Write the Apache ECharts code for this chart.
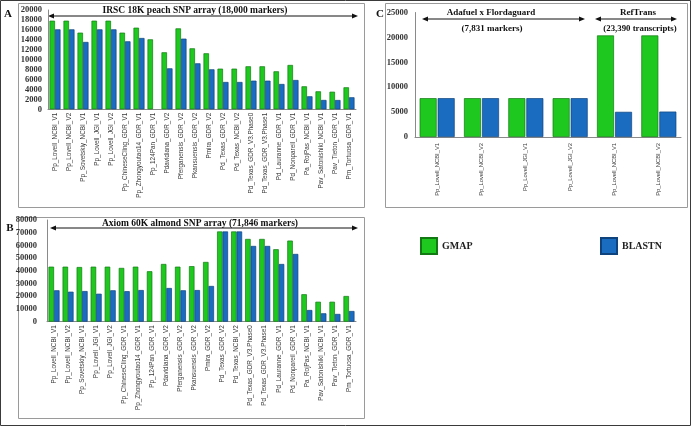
<!DOCTYPE html>
<html>
<head>
<meta charset="utf-8">
<script src="https://cdn.jsdelivr.net/npm/echarts@6/dist/echarts.min.js"></script>
<style>
  html, body { margin: 0; padding: 0; background: #fff; }
  #main { width: 691px; height: 426px; }
</style>
</head>
<body>
<div id="main"></div>
<script>
// genomes used in panels A and B
var genomesAB = ['Pp_Lovell_NCBI_V1', 'Pp_Lovell_NCBI_V2', 'Pp_Sovetskiy_NCBI_V1', 'Pp_Lovell_JGI_V1',
  'Pp_Lovell_JGI_V2', 'Pp_ChineseCling_GDR_V1', 'Pp_Zhongyoutao14_GDR_V1', 'Pp_124Pan_GDR_V1',
  'Pdavidiana_GDR_V2', 'Pferganensis_GDR_V2', 'Pkansuensis_GDR_V2', 'Pmira_GDR_V2',
  'Pd_Texas_GDR_V2', 'Pd_Texas_NCBI_V2', 'Pd_Texas_GDR_V3.Phase0', 'Pd_Texas_GDR_V3.Phase1',
  'Pd_Lauranne_GDR_V1', 'Pd_Nonpareil_GDR_V1', 'Pa_RojPas_NCBI_V1', 'Pav_Satonishiki_NCBI_V1',
  'Pav_Tieton_GDR_V1', 'Pm_Tortuosa_GDR_V1'];

// A: IRSC 18K peach SNP array
var gmapA = [17850, 17850, 15440, 17850, 17850, 15440, 16440, 14090, 11480, 16300, 12280, 11280,
  8190, 8190, 8660, 8660, 7650, 8930, 4630, 3620, 3540, 4430];
var blastA = [16100, 16100, 13560, 16100, 16100, 13690, 14360, null, 8250, 14230, 9260, 8050,
  5500, 5500, 5770, 5770, 5100, 5900, 2620, 1880, 1870, 2420];

// B: Axiom 60K almond SNP array
var gmapB = [43300, 43300, 43000, 43300, 43300, 42300, 43300, 39700, 45400, 43300, 43700, 47000,
  71000, 71000, 65100, 65100, 57000, 63800, 21600, 15700, 15700, 20200];
var blastB = [24700, 23600, 24100, 22000, 24700, 24000, 24900, null, 26500, 24700, 24900, 28100,
  71000, 71000, 59600, 59600, 45400, 53300, 9200, 6600, 6100, 8400];

// C: Adafuel x Flordaguard map and RefTrans
var genomesC = ['Pp_Lovell_NCBI_V1', 'Pp_Lovell_NCBI_V2', 'Pp_Lovell_JGI_V1', 'Pp_Lovell_JGI_V2',
  'Pp_Lovell_NCBI_V1', 'Pp_Lovell_NCBI_V2'];
var gmapC = [7800, 7800, 7800, 7800, 20400, 20400];
var blastC = [7800, 7800, 7800, 7800, 5050, 5100];

var green = '#1ec81e', greenLine = '#137a13';
var blue = '#1a6cc0', blueLine = '#0e437e';
var serif = 'Liberation Serif';

function xAx(idx, data, margin, size) {
  return {
    type: 'category', gridIndex: idx, data: data,
    axisTick: { show: false },
    axisLine: { lineStyle: { color: '#8a8a8a', width: 1 } },
    axisLabel: { interval: 0, rotate: 90, fontSize: size, color: '#3a3a3a',
      fontFamily: 'Liberation Sans', margin: margin }
  };
}
function yAx(idx, max, step, margin) {
  return {
    type: 'value', gridIndex: idx, min: 0, max: max, interval: step,
    splitLine: { show: false },
    axisLine: { show: true, lineStyle: { color: '#8a8a8a', width: 1 } },
    axisTick: { show: false },
    axisLabel: { fontSize: 8.5, fontWeight: 'bold', color: '#333',
      fontFamily: serif, margin: margin,
      formatter: function (v) { return String(v); } }
  };
}
function bars(name, idx, data, color, line, w, gap) {
  return {
    name: name, type: 'bar', xAxisIndex: idx, yAxisIndex: idx, data: data,
    barWidth: w, barGap: gap,
    itemStyle: { color: color, borderColor: line, borderWidth: 0.7 }
  };
}
function arrow(x1, x2, y) {
  return [
    { type: 'line', shape: { x1: x1 + 4, y1: y, x2: x2 - 4, y2: y },
      style: { stroke: '#111', lineWidth: 1 } },
    { type: 'polygon', shape: { points: [[x1, y], [x1 + 6, y - 2.5], [x1 + 6, y + 2.5]] },
      style: { fill: '#111' } },
    { type: 'polygon', shape: { points: [[x2, y], [x2 - 6, y - 2.5], [x2 - 6, y + 2.5]] },
      style: { fill: '#111' } }
  ];
}
function label(text, x, y, size, align) {
  return { type: 'text', x: x, y: y,
    style: { text: text, font: 'bold ' + size + 'px "' + serif + '"', fill: '#111',
      align: align || 'center', verticalAlign: 'middle' } };
}
function box(x, y, w, h, color) {
  return { type: 'rect', shape: { x: x, y: y, width: w, height: h },
    style: { fill: null, stroke: color, lineWidth: 1 } };
}

var graphics = [
  box(0.5, 0.5, 690, 425, '#3a3a3a'),
  box(18.5, 3.5, 346, 204, '#9a9a9a'),
  box(18.5, 217.5, 346, 201, '#9a9a9a'),
  box(385.5, 3.5, 302, 204, '#9a9a9a'),
  label('A', 8, 14, 11, 'center'),
  label('B', 10, 228, 11, 'center'),
  label('C', 380, 14, 11, 'center'),
  label('IRSC 18K peach SNP array (18,000 markers)', 195, 10.5, 9.5),
  label('Axiom 60K almond SNP array (71,846 markers)', 200, 223.5, 9.5),
  label('Adafuel x Flordaguard', 491, 13, 9),
  label('(7,831 markers)', 492, 29, 9),
  label('RefTrans', 638, 13, 9),
  label('(23,390 transcripts)', 640, 29, 8.8)
].concat(arrow(48, 358, 16), arrow(50, 358, 228), arrow(422, 585, 19), arrow(595, 677, 19));

var legendText = { fontFamily: serif, fontWeight: 'bold', fontSize: 10, color: '#222' };

var chart = echarts.init(document.getElementById('main'), null, { renderer: 'canvas' });
chart.setOption({
  animation: false,
  backgroundColor: '#fff',
  grid: [
    { left: 48, top: 10, width: 308, height: 99.3 },
    { left: 47, top: 220, width: 309, height: 101.7 },
    { left: 415, top: 12.5, width: 266, height: 124.5 }
  ],
  xAxis: [xAx(0, genomesAB, 3.5, 6.4), xAx(1, genomesAB, 3.5, 6.4), xAx(2, genomesC, 6, 5.8)],
  yAxis: [yAx(0, 20000, 2000, 6), yAx(1, 80000, 10000, 10), yAx(2, 25000, 5000, 7)],
  legend: [
    { data: ['GMAP'], left: 420, top: 237, padding: 0, icon: 'rect',
      itemWidth: 16, itemHeight: 16, textStyle: legendText },
    { data: ['BLASTN'], left: 600, top: 237, padding: 0, icon: 'rect',
      itemWidth: 16, itemHeight: 16, textStyle: legendText }
  ],
  series: [
    bars('GMAP', 0, gmapA, green, greenLine, 5.5, 0),
    bars('BLASTN', 0, blastA, blue, blueLine, 5.5, 0),
    bars('GMAP', 1, gmapB, green, greenLine, 5.5, 0),
    bars('BLASTN', 1, blastB, blue, blueLine, 5.5, 0),
    bars('GMAP', 2, gmapC, green, greenLine, 17, '6%'),
    bars('BLASTN', 2, blastC, blue, blueLine, 17, '6%')
  ],
  graphic: graphics
});
</script>
</body>
</html>
